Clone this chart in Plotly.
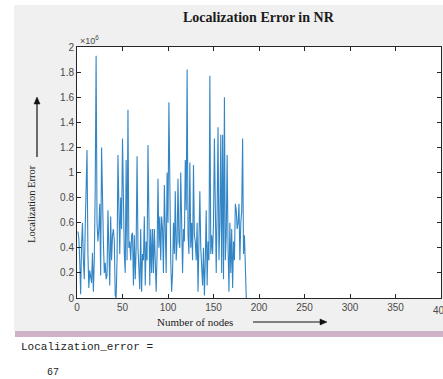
import numpy as np
import plotly.graph_objects as go

# Localization error per node (units of 1e6)
error_millions = [
    0.53, 0.48, 0.30, 0.03, 0.42, 0.60, 0.30, 0.15, 0.55, 0.95,
    1.18, 0.35, 0.08, 0.22, 0.18, 0.12, 0.36, 0.05, 0.30, 0.85,
    1.93, 0.60, 0.45, 0.55, 0.75, 0.18, 1.20, 0.62, 0.45, 0.20,
    0.28, 0.15, 0.18, 0.70, 0.40, 0.10, 0.65, 0.30, 0.50, 0.55,
    0.45, 0.02, 0.00, 0.30, 1.14, 0.50, 0.35, 0.80, 0.55, 1.27,
    0.55, 0.35, 0.20, 1.10, 0.30, 1.50, 0.40, 0.45, 0.30, 0.50,
    0.52, 0.10, 0.50, 0.15, 0.40, 1.13, 0.40, 0.25, 0.07, 0.55,
    0.05, 0.35, 0.30, 0.65, 0.10, 0.45, 0.30, 1.22, 0.40, 0.10,
    0.55, 0.20, 0.55, 0.20, 0.55, 0.30, 0.05, 0.35, 0.95, 0.40,
    0.65, 0.30, 0.65, 0.55, 0.20, 0.90, 0.60, 0.20, 1.00, 0.60,
    1.56, 0.50, 0.30, 0.05, 0.20, 0.60, 0.35, 0.85, 0.30, 0.45,
    0.95, 0.45, 0.40, 1.00, 0.35, 0.20, 0.55, 0.45, 1.10, 0.70,
    1.82, 0.50, 0.35, 1.08, 0.40, 0.60, 0.30, 1.06, 0.50, 0.45,
    0.30, 0.60, 0.05, 0.40, 0.85, 0.40, 0.25, 0.10, 0.40, 0.02,
    0.30, 0.70, 0.10, 0.45, 0.30, 1.77, 0.35, 0.50, 0.35, 0.60,
    1.27, 0.50, 0.20, 0.70, 1.36, 0.30, 0.60, 1.30, 0.20, 1.30,
    0.15, 1.60, 0.30, 0.50, 1.14, 0.40, 0.05, 0.60, 0.20, 0.55,
    0.08, 0.45, 0.30, 0.75, 0.70, 0.55, 0.60, 0.75, 0.30, 0.60,
    0.70, 1.27, 0.35, 0.50, 0.30, 0.00,
]
x_ticks = [0, 50, 100, 150, 200, 250, 300, 350, 400]
y_ticks = [0, 0.2, 0.4, 0.6, 0.8, 1, 1.2, 1.4, 1.6, 1.8, 2]
y_tick_text = ["0", "0.2", "0.4", "0.6", "0.8", "1", "1.2", "1.4", "1.6", "1.8", "2"]
console_value = 67

W, H = 443, 379
L, R, T, B = 77, 441, 47, 298  # plot area in pixels


def px(x):
    return (x - L) / (R - L)


def py(y):
    return (B - y) / (B - T)


nodes = np.arange(1, len(error_millions) + 1)
err = np.array(error_millions) * 1e6

TICK_FONT = dict(family="Liberation Sans, Arial", size=10, color="#4a4a4a")
SERIF = "Liberation Serif, Times New Roman"

fig = go.Figure()
fig.add_trace(go.Scatter(
    x=nodes, y=err, mode="lines",
    line=dict(color="#3386c6", width=1.1),
    hoverinfo="skip", showlegend=False,
))

axis_common = dict(
    showline=True, linecolor="#262626", linewidth=1, mirror="ticks",
    ticks="inside", ticklen=4, tickcolor="#262626", tickwidth=1,
    showgrid=False, zeroline=False, tickfont=TICK_FONT,
)


def arrow_shapes(x0, y0, x1, y1, head=7, half=3):
    """Line from (x0,y0) to tip (x1,y1) with a filled triangular head (pixels)."""
    d = np.array([x1 - x0, y1 - y0], float)
    d /= np.hypot(*d)
    n = np.array([-d[1], d[0]])
    base = np.array([x1, y1]) - d * head
    p1 = base + n * half
    p2 = base - n * half
    line = dict(type="line", xref="paper", yref="paper", layer="above",
                x0=px(x0), y0=py(y0), x1=px(base[0]), y1=py(base[1]),
                line=dict(color="#111111", width=1.2))
    tri = dict(type="path", xref="paper", yref="paper", layer="above",
               path=f"M {px(x1)} {py(y1)} L {px(p1[0])} {py(p1[1])} "
                    f"L {px(p2[0])} {py(p2[1])} Z",
               fillcolor="#111111", line=dict(color="#111111", width=0.5))
    return [line, tri]


shapes = [
    # figure panel
    dict(type="rect", xref="paper", yref="paper", layer="below",
         x0=px(14), x1=px(444), y0=py(331), y1=py(5),
         fillcolor="#f0f0f0", line=dict(width=0)),
    # axes background
    dict(type="rect", xref="paper", yref="paper", layer="below",
         x0=0, x1=1, y0=0, y1=1, fillcolor="white", line=dict(width=0)),
    # divider band under the figure
    dict(type="rect", xref="paper", yref="paper", layer="below",
         x0=px(15), x1=px(444), y0=py(337), y1=py(331),
         fillcolor="#cfb2c7", line=dict(width=0)),
]
shapes += arrow_shapes(253, 322, 327, 322)
shapes += arrow_shapes(37, 157, 37, 97)

fig.update_layout(
    width=W, height=H,
    margin=dict(l=L, r=W - R, t=T, b=H - B),
    paper_bgcolor="white", plot_bgcolor="white",
    # the last tick sits on the right border; its label is drawn separately
    xaxis=dict(range=[0, 400], tickvals=x_ticks[:-1], **axis_common),
    yaxis=dict(range=[0, 2e6], tickvals=[v * 1e6 for v in y_ticks],
               ticktext=y_tick_text, **axis_common),
    shapes=shapes,
    annotations=[
        dict(text="<b>Localization Error in NR</b>", xref="paper", yref="paper",
             x=px(259), y=py(17), showarrow=False, xanchor="center", yanchor="middle",
             font=dict(family=SERIF, size=14, color="#1a1a1a")),
        dict(text="×10<sup>6</sup>", xref="paper", yref="paper",
             x=px(78), y=py(40), showarrow=False, xanchor="left", yanchor="middle",
             font=dict(family="Liberation Sans, Arial", size=9, color="#4a4a4a")),
        # last x tick label, running off the window edge
        dict(text=str(x_ticks[-1]), xref="x", yref="paper",
             x=x_ticks[-1], y=py(310), showarrow=False, xanchor="center",
             yanchor="middle", font=TICK_FONT),
        dict(text="Number of nodes", xref="paper", yref="paper",
             x=px(195), y=py(322), showarrow=False, xanchor="center", yanchor="middle",
             font=dict(family=SERIF, size=11, color="#1a1a1a")),
        dict(text="Localization Error", xref="paper", yref="paper",
             x=px(31), y=py(204), textangle=-90, showarrow=False,
             xanchor="center", yanchor="middle",
             font=dict(family=SERIF, size=10.5, color="#1a1a1a")),
        dict(text="Localization_error =", xref="paper", yref="paper",
             x=px(19), y=py(347), showarrow=False, xanchor="left", yanchor="middle",
             font=dict(family="Liberation Mono, Courier New", size=11, color="#222222")),
        dict(text=str(console_value), xref="paper", yref="paper",
             x=px(45), y=py(372), showarrow=False, xanchor="left", yanchor="middle",
             font=dict(family="Liberation Mono, Courier New", size=10, color="#222222")),
    ],
)

fig.write_html("out.html")
